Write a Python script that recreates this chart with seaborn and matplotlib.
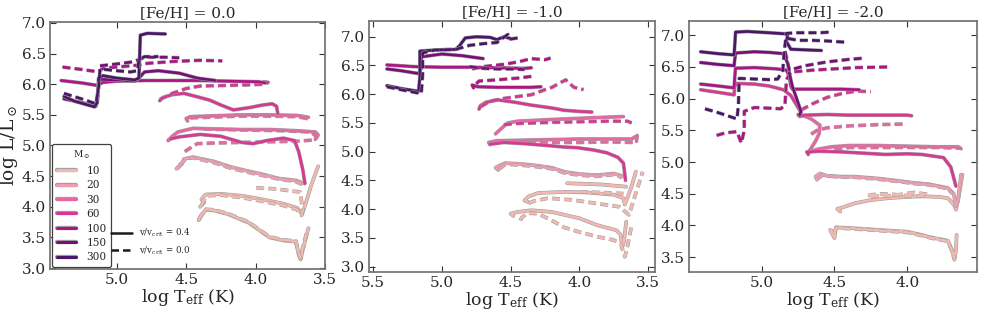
import matplotlib
matplotlib.use('Agg')
import matplotlib.pyplot as plt
import matplotlib.patheffects as pe
from matplotlib.lines import Line2D
import seaborn as sns
import pandas as pd

sns.set_theme(style='ticks')
plt.rcParams['font.family'] = ['DejaVu Serif']
plt.rcParams['mathtext.fontset'] = 'dejavuserif'

panel_titles = ['[Fe/H] = 0.0', '[Fe/H] = -1.0', '[Fe/H] = -2.0']
masses = [10, 20, 30, 60, 100, 150, 300]
mass_colors = ['#f2b9b1', '#ef9db0', '#ea66a0', '#d83893', '#ae1484', '#780e79', '#4a1668']
rot_labels = [r'v/v$_{\rm crit}$ = 0.4', r'v/v$_{\rm crit}$ = 0.0']

# ---- [Fe/H] = 0.0 : (log Teff, log L) ----
fe00_m10_rot = [(4.41,3.78),(4.39,3.86),(4.36,3.95),(4.30,3.94),(4.20,3.88),(4.05,3.74),(3.90,3.50),(3.80,3.45),(3.71,3.43),(3.69,3.22),(3.676,3.14),(3.66,3.30),(3.62,3.65)]
fe00_m10_norot = [(4.41,3.79),(4.39,3.87),(4.36,3.96),(4.30,3.95),(4.20,3.89),(4.05,3.75),(3.90,3.51),(3.80,3.46),(3.71,3.44),(3.69,3.24),(3.678,3.16),(3.665,3.30),(3.63,3.60)]
fe00_m10_rot_b = [(4.40,4.00),(4.37,4.07),(4.39,4.12),(4.36,4.20),(4.25,4.21),(4.10,4.18),(3.95,4.12),(3.80,4.05),(3.70,3.98),(3.665,3.88),(3.64,4.05),(3.60,4.35),(3.55,4.66)]
fe00_m10_norot_b = [(4.39,4.02),(4.37,4.12),(4.35,4.18),(4.25,4.19),(4.10,4.15),(3.95,4.09),(3.80,4.02),(3.70,3.95),(3.67,3.86),(3.66,3.95),(3.68,4.24),(3.85,4.29),(4.00,4.31)]
fe00_m20_rot = [(4.55,4.66),(4.57,4.62),(4.53,4.70),(4.515,4.78),(4.45,4.81),(4.30,4.74),(4.18,4.65),(4.05,4.58),(3.95,4.53),(3.83,4.46),(3.71,4.43),(3.65,4.38)]
fe00_m20_norot = [(4.55,4.68),(4.52,4.74),(4.50,4.79),(4.45,4.80),(4.30,4.72),(4.18,4.63),(4.05,4.56),(3.95,4.51),(3.83,4.45),(3.71,4.41),(3.66,4.36)]
fe00_m30_rot = [(4.61,5.11),(4.63,5.08),(4.60,5.15),(4.56,5.22),(4.45,5.28),(4.30,5.27),(4.10,5.26),(3.90,5.26),(3.70,5.24),(3.57,5.22),(3.55,5.17),(3.57,5.10)]
fe00_m30_norot = [(4.51,4.90),(4.47,4.96),(4.42,5.03),(4.30,5.04),(4.10,5.05),(3.90,5.06),(3.70,5.07),(3.58,5.09),(3.56,5.14),(3.60,5.22),(3.80,5.24),(4.00,5.25),(4.20,5.26),(4.40,5.27)]
fe00_m30_rot_b = [(4.49,5.40),(4.50,5.44),(4.47,5.47),(4.35,5.48),(4.10,5.50),(3.90,5.50),(3.70,5.49),(3.62,5.46)]
fe00_m30_norot_b = [(4.47,5.45),(4.35,5.46),(4.10,5.48),(3.90,5.48),(3.70,5.47),(3.63,5.44),(3.61,5.46)]
fe00_m60_rot = [(4.61,5.11),(4.55,5.14),(4.40,5.18),(4.25,5.15),(4.10,5.05),(4.02,5.03),(3.92,5.08),(3.80,5.12),(3.72,5.08),(3.69,4.90),(3.66,4.60),(3.645,4.38)]
fe00_m60_norot = [(4.69,5.75),(4.60,5.85),(4.50,5.93),(4.40,5.97),(4.20,5.98),(4.05,5.99),(3.93,6.00),(3.91,6.03),(3.95,6.04)]
fe00_m60_rot_b = [(4.69,5.73),(4.67,5.78),(4.60,5.83),(4.515,5.85),(4.43,5.80),(4.33,5.74),(4.25,5.66),(4.16,5.58),(4.04,5.62),(3.95,5.66),(3.88,5.68),(3.85,5.64),(3.84,5.52)]
fe00_m100_rot = [(5.40,6.06),(5.25,6.02),(5.14,5.98),(5.10,6.03),(5.00,6.05),(4.80,6.06),(4.60,6.06),(4.40,6.06),(4.20,6.05),(3.98,6.04),(3.93,6.02)]
fe00_m100_norot = [(5.39,6.28),(5.25,6.24),(5.13,6.20),(5.10,6.26),(5.00,6.28),(4.85,6.31),(4.78,6.34),(4.60,6.37),(4.40,6.39),(4.24,6.38)]
fe00_m150_rot = [(5.38,5.76),(5.25,5.70),(5.15,5.64),(5.135,5.80),(5.13,6.08),(5.00,6.07),(4.87,6.05),(4.84,6.10),(4.80,6.20),(4.70,6.22),(4.55,6.18),(4.42,6.10),(4.29,6.06)]
fe00_m150_norot = [(5.12,6.30),(5.00,6.33),(4.90,6.36),(4.84,6.40),(4.80,6.44),(4.65,6.44),(4.55,6.43)]
fe00_m300_rot = [(5.38,5.80),(5.30,5.72),(5.16,5.63),(5.14,5.70),(5.13,6.10),(5.10,6.14),(5.00,6.10),(4.87,6.07),(4.84,6.10),(4.83,6.80),(4.78,6.83),(4.65,6.82)]
fe00_m300_norot = [(5.38,5.85),(5.28,5.78),(5.20,5.72),(5.15,5.68),(5.13,5.95),(5.12,6.25),(5.00,6.22),(4.90,6.20),(4.85,6.22),(4.84,6.40),(4.80,6.45),(4.70,6.45)]

# ---- [Fe/H] = -1.0 ----
fe10_m10_rot = [(4.48,3.88),(4.50,3.92),(4.45,3.95),(4.35,3.98),(4.20,3.95),(4.11,3.90),(4.00,3.84),(3.87,3.72),(3.73,3.63),(3.70,3.55),(3.69,3.33),(3.675,3.45),(3.66,3.78)]
fe10_m10_norot = [(4.43,3.80),(4.42,3.85),(4.38,3.93),(4.30,3.92),(4.20,3.80),(4.11,3.68),(4.00,3.60),(3.87,3.52),(3.75,3.46),(3.70,3.40),(3.67,3.17),(3.655,3.30),(3.63,3.60),(3.62,3.72)]
fe10_m10_rot_b = [(4.37,4.12),(4.40,4.15),(4.37,4.22),(4.30,4.28),(4.11,4.30),(3.95,4.29),(3.75,4.25),(3.68,4.19),(3.67,4.08),(3.65,4.20),(3.62,4.40),(3.59,4.65)]
fe10_m10_norot_b = [(4.37,4.10),(4.33,4.14),(4.23,4.19),(4.05,4.16),(3.88,4.10),(3.71,4.04),(3.64,3.90),(3.60,4.20),(3.54,4.65)]
fe10_m10_rot_c = [(4.09,4.45),(3.85,4.43),(3.66,4.39)]
fe10_m10_norot_c = [(4.00,4.30),(3.85,4.29),(3.68,4.27)]
fe10_m20_rot = [(4.59,4.68),(4.61,4.72),(4.58,4.76),(4.54,4.80),(4.45,4.79),(4.35,4.77),(4.20,4.72),(4.11,4.65),(4.00,4.61),(3.87,4.59),(3.75,4.62),(3.68,4.57)]
fe10_m20_norot = [(4.58,4.70),(4.54,4.78),(4.45,4.77),(4.35,4.75),(4.20,4.70),(4.11,4.63),(4.00,4.59),(3.87,4.57),(3.75,4.60),(3.69,4.55)]
fe10_m30_rot = [(4.65,5.12),(4.66,5.16),(4.60,5.19),(4.40,5.20),(4.20,5.21),(4.00,5.22),(3.80,5.22),(3.62,5.22),(3.58,5.28),(3.585,5.18)]
fe10_m30_norot = [(4.64,5.14),(4.55,5.17),(4.40,5.17),(4.20,5.16),(4.00,5.16),(3.80,5.17),(3.60,5.16)]
fe10_m30_rot_b = [(4.61,5.31),(4.56,5.42),(4.52,5.50),(4.45,5.53),(4.20,5.56),(4.00,5.58),(3.80,5.60),(3.68,5.61)]
fe10_m60_rot = [(4.65,5.13),(4.55,5.16),(4.40,5.14),(4.20,5.10),(4.11,5.08),(4.02,5.07),(3.90,5.03),(3.80,4.98),(3.72,4.90),(3.68,4.80),(3.665,4.50)]
fe10_m60_norot = [(4.55,5.47),(4.45,5.49),(4.20,5.51),(4.00,5.52),(3.80,5.53),(3.65,5.53),(3.62,5.50)]
fe10_m60_rot_b = [(4.73,5.74),(4.72,5.80),(4.68,5.86),(4.59,5.90),(4.47,5.86),(4.35,5.81),(4.20,5.76),(4.11,5.72),(4.00,5.70),(3.91,5.69)]
fe10_m60_norot_b = [(4.72,5.78),(4.65,5.88),(4.54,5.93),(4.45,5.96),(4.35,5.99),(4.25,6.08),(4.20,6.12),(4.10,6.25),(4.04,6.12),(3.97,6.08)]
fe10_m100_rot = [(4.77,6.11),(4.78,6.16),(4.74,6.13),(4.60,6.12),(4.45,6.12),(4.35,6.12),(4.28,6.13)]
fe10_m100_norot = [(4.75,6.18),(4.73,6.23),(4.60,6.25),(4.45,6.28),(4.35,6.31)]
fe10_m100_rot_b = [(5.40,6.51),(5.20,6.48),(5.00,6.47),(4.80,6.47),(4.60,6.46),(4.40,6.45),(4.35,6.46)]
fe10_m100_norot_b = [(4.78,6.44),(4.70,6.48),(4.55,6.52),(4.45,6.56),(4.35,6.62),(4.25,6.60),(4.21,6.63)]
fe10_m150_rot = [(5.40,6.44),(5.30,6.41),(5.17,6.36),(5.15,6.45),(5.15,6.65),(5.00,6.70),(4.85,6.67),(4.70,6.62)]
fe10_m150_norot = [(4.80,6.48),(4.70,6.45),(4.60,6.44),(4.50,6.44),(4.40,6.43)]
fe10_m300_rot = [(5.40,6.15),(5.30,6.10),(5.17,6.05),(5.16,6.30),(5.16,6.75),(5.05,6.77),(4.90,6.78),(4.87,6.85),(4.83,6.98),(4.75,7.00),(4.65,6.99),(4.60,6.95),(4.55,7.00),(4.50,6.97)]
fe10_m300_norot = [(5.40,6.13),(5.30,6.08),(5.15,6.01),(5.14,6.35),(5.14,6.72),(5.05,6.77),(4.90,6.78),(4.80,6.85),(4.70,6.88),(4.60,6.90),(4.55,6.99),(4.52,7.04),(4.50,6.96),(4.45,6.98)]

# ---- [Fe/H] = -2.0 ----
fe20_m10_rot = [(4.51,3.90),(4.53,3.93),(4.50,3.80),(4.49,3.97),(4.40,3.96),(4.20,3.93),(4.00,3.90),(3.90,3.85),(3.835,3.81),(3.72,3.76),(3.69,3.60),(3.675,3.46),(3.665,3.60),(3.66,3.85)]
fe20_m10_norot = [(4.50,3.88),(4.49,3.96),(4.40,3.95),(4.20,3.92),(4.00,3.89),(3.90,3.84),(3.835,3.80),(3.72,3.75),(3.69,3.58),(3.677,3.48)]
fe20_m10_rot_b = [(4.46,4.22),(4.48,4.26),(4.45,4.28),(4.36,4.35),(4.25,4.40),(4.13,4.43),(4.00,4.45),(3.90,4.46),(3.78,4.45),(3.72,4.43),(3.68,4.33),(3.665,4.25),(3.65,4.40),(3.62,4.80)]
fe20_m10_norot_b = [(4.27,4.47),(4.20,4.50),(4.10,4.49),(4.00,4.47),(3.90,4.46),(3.86,4.49),(3.95,4.52),(4.10,4.47),(4.22,4.46),(4.27,4.45)]
fe20_m20_rot = [(4.62,4.72),(4.63,4.77),(4.60,4.82),(4.55,4.78),(4.45,4.77),(4.36,4.77),(4.20,4.74),(4.05,4.70),(3.95,4.67),(3.85,4.65),(3.72,4.59),(3.68,4.50),(3.665,4.30),(3.65,4.40),(3.63,4.80)]
fe20_m20_norot = [(4.61,4.74),(4.58,4.80),(4.50,4.77),(4.36,4.76),(4.20,4.73),(4.05,4.69),(3.95,4.66),(3.85,4.64),(3.72,4.58),(3.69,4.50)]
fe20_m30_rot = [(4.73,5.75),(4.66,5.68),(4.60,5.58),(4.605,5.45),(4.63,5.33),(4.66,5.22),(4.68,5.15),(4.62,5.20),(4.52,5.24),(4.40,5.26),(4.20,5.26),(4.00,5.25),(3.80,5.24),(3.65,5.24),(3.63,5.21)]
fe20_m30_norot = [(4.50,5.19),(4.40,5.23),(4.20,5.23),(4.00,5.23),(3.80,5.23),(3.63,5.22)]
fe20_m30_norot_b = [(4.66,5.44),(4.62,5.50),(4.55,5.54),(4.40,5.57),(4.20,5.59),(4.02,5.60)]
fe20_m60_rot = [(4.68,5.12),(4.69,5.16),(4.60,5.17),(4.45,5.16),(4.30,5.14),(4.15,5.12),(4.00,5.13),(3.90,5.12),(3.75,5.07),(3.70,4.92),(3.68,4.75),(3.665,4.62)]
fe20_m60_rot_b = [(4.75,5.75),(4.74,5.72),(4.70,5.74),(4.55,5.75),(4.40,5.74),(4.20,5.74),(4.00,5.74),(3.97,5.73)]
fe20_m60_rot_c = [(5.42,6.14),(5.30,6.10),(5.19,6.06),(5.185,6.20),(5.17,6.24),(5.05,6.23),(4.95,6.20),(4.85,6.14),(4.80,6.05),(4.76,5.90),(4.73,5.78)]
fe20_m60_norot = [(4.73,5.82),(4.65,5.92),(4.55,6.02),(4.45,6.08),(4.35,6.12),(4.25,6.11)]
fe20_m100_rot = [(5.42,6.23),(5.30,6.20),(5.19,6.17),(5.185,6.35),(5.18,6.48),(5.05,6.49),(4.90,6.47),(4.83,6.45),(4.81,6.35),(4.80,6.20),(4.79,6.15),(4.60,6.15),(4.45,6.15),(4.33,6.14)]
fe20_m100_norot = [(5.31,5.42),(5.25,5.46),(5.17,5.48),(5.15,5.36),(5.14,5.30),(5.12,5.50),(5.12,5.80),(5.05,5.86),(4.95,5.85),(4.87,5.84),(4.84,5.90),(4.83,6.30),(4.80,6.42),(4.65,6.45),(4.50,6.47),(4.35,6.49),(4.13,6.50)]
fe20_m150_rot = [(5.42,6.57),(5.30,6.54),(5.19,6.52),(5.185,6.62),(5.18,6.72),(5.05,6.74),(4.95,6.73),(4.85,6.71),(4.82,6.55),(4.81,6.40),(4.79,6.20),(4.76,6.00),(4.73,5.80),(4.74,5.74)]
fe20_m150_norot = [(4.84,6.75),(4.82,6.55),(4.81,6.45),(4.70,6.52),(4.55,6.58),(4.40,6.62),(4.29,6.64)]
fe20_m300_rot = [(5.42,6.74),(5.30,6.71),(5.19,6.69),(5.185,6.85),(5.18,7.05),(5.10,7.06),(4.95,7.04),(4.82,7.02),(4.83,6.90),(4.80,6.78),(4.70,6.77),(4.59,6.76)]
fe20_m300_norot = [(5.39,5.84),(5.30,5.78),(5.17,5.68),(5.16,5.90),(5.155,6.32),(5.05,6.31),(4.95,6.30),(4.89,6.31),(4.855,6.45),(4.845,6.75),(4.83,7.03),(4.75,7.04),(4.60,7.04),(4.53,7.05)]
fe20_m300_norot_b = [(4.82,6.95),(4.75,6.92),(4.65,6.92),(4.55,6.91),(4.42,6.89)]

# panel, mass, rotation, track
tracks = [
    (0, 10, '0.4', fe00_m10_rot), (0, 10, '0.0', fe00_m10_norot),
    (0, 10, '0.4', fe00_m10_rot_b), (0, 10, '0.0', fe00_m10_norot_b),
    (0, 20, '0.4', fe00_m20_rot), (0, 20, '0.0', fe00_m20_norot),
    (0, 30, '0.4', fe00_m30_rot), (0, 30, '0.0', fe00_m30_norot),
    (0, 30, '0.4', fe00_m30_rot_b), (0, 30, '0.0', fe00_m30_norot_b),
    (0, 60, '0.4', fe00_m60_rot), (0, 60, '0.0', fe00_m60_norot), (0, 60, '0.4', fe00_m60_rot_b),
    (0, 100, '0.4', fe00_m100_rot), (0, 100, '0.0', fe00_m100_norot),
    (0, 150, '0.4', fe00_m150_rot), (0, 150, '0.0', fe00_m150_norot),
    (0, 300, '0.4', fe00_m300_rot), (0, 300, '0.0', fe00_m300_norot),

    (1, 10, '0.4', fe10_m10_rot), (1, 10, '0.0', fe10_m10_norot),
    (1, 10, '0.4', fe10_m10_rot_b), (1, 10, '0.0', fe10_m10_norot_b),
    (1, 10, '0.4', fe10_m10_rot_c), (1, 10, '0.0', fe10_m10_norot_c),
    (1, 20, '0.4', fe10_m20_rot), (1, 20, '0.0', fe10_m20_norot),
    (1, 30, '0.4', fe10_m30_rot), (1, 30, '0.0', fe10_m30_norot), (1, 30, '0.4', fe10_m30_rot_b),
    (1, 60, '0.4', fe10_m60_rot), (1, 60, '0.0', fe10_m60_norot),
    (1, 60, '0.4', fe10_m60_rot_b), (1, 60, '0.0', fe10_m60_norot_b),
    (1, 100, '0.4', fe10_m100_rot), (1, 100, '0.0', fe10_m100_norot),
    (1, 100, '0.4', fe10_m100_rot_b), (1, 100, '0.0', fe10_m100_norot_b),
    (1, 150, '0.4', fe10_m150_rot), (1, 150, '0.0', fe10_m150_norot),
    (1, 300, '0.4', fe10_m300_rot), (1, 300, '0.0', fe10_m300_norot),

    (2, 10, '0.4', fe20_m10_rot), (2, 10, '0.0', fe20_m10_norot),
    (2, 10, '0.4', fe20_m10_rot_b), (2, 10, '0.0', fe20_m10_norot_b),
    (2, 20, '0.4', fe20_m20_rot), (2, 20, '0.0', fe20_m20_norot),
    (2, 30, '0.4', fe20_m30_rot), (2, 30, '0.0', fe20_m30_norot), (2, 30, '0.0', fe20_m30_norot_b),
    (2, 60, '0.4', fe20_m60_rot), (2, 60, '0.4', fe20_m60_rot_b), (2, 60, '0.4', fe20_m60_rot_c),
    (2, 60, '0.0', fe20_m60_norot),
    (2, 100, '0.4', fe20_m100_rot), (2, 100, '0.0', fe20_m100_norot),
    (2, 150, '0.4', fe20_m150_rot), (2, 150, '0.0', fe20_m150_norot),
    (2, 300, '0.4', fe20_m300_rot), (2, 300, '0.0', fe20_m300_norot), (2, 300, '0.0', fe20_m300_norot_b),
]

rows = []
for tid, (p, m, r, pts) in enumerate(tracks):
    for t, l in pts:
        rows.append({'panel': p, 'mass': m, 'rot': r, 'track': tid, 'logT': t, 'logL': l})
df = pd.DataFrame(rows)

palette = dict(zip(masses, mass_colors))
outline = [pe.Stroke(linewidth=2.7, foreground='0.62'), pe.Normal()]

fig = plt.figure(figsize=(9.83, 3.14), dpi=100)
rects = [[0.0509, 0.1424, 0.2798, 0.7885],
         [0.3754, 0.1347, 0.2910, 0.7994],
         [0.7009, 0.1347, 0.2930, 0.7994]]
xlims = [(5.48, 3.50), (5.53, 3.45), (5.50, 3.52)]
ylims = [(2.98, 7.02), (2.91, 7.28), (3.27, 7.23)]
xticks = [[5.0, 4.5, 4.0, 3.5], [5.5, 5.0, 4.5, 4.0, 3.5], [5.0, 4.5, 4.0]]
yticks = [[3.0, 3.5, 4.0, 4.5, 5.0, 5.5, 6.0, 6.5, 7.0],
          [3.0, 3.5, 4.0, 4.5, 5.0, 5.5, 6.0, 6.5, 7.0],
          [3.5, 4.0, 4.5, 5.0, 5.5, 6.0, 6.5, 7.0]]

for i in range(3):
    ax = fig.add_axes(rects[i])
    sub = df[df['panel'] == i].sort_values(['mass', 'track'], kind='stable')
    sns.lineplot(data=sub, x='logT', y='logL', hue='mass', style='rot', units='track',
                 estimator=None, sort=False, palette=palette,
                 dashes={'0.4': '', '0.0': (3, 1.6)}, style_order=['0.4', '0.0'],
                 legend=False, linewidth=1.9, path_effects=outline, ax=ax)
    ax.set_xlim(*xlims[i])
    ax.set_ylim(*ylims[i])
    ax.set_xticks(xticks[i])
    ax.set_yticks(yticks[i])
    ax.tick_params(direction='in', top=True, right=True, length=4, width=0.8,
                   labelsize=11, color='0.2', pad=3)
    for s in ax.spines.values():
        s.set_color('0.45')
    ax.set_title(panel_titles[i], fontsize=11, pad=3)
    ax.set_xlabel(r'log T$_{\rm eff}$ (K)', fontsize=12.5, labelpad=0)
    ax.set_ylabel('')

    if i == 0:
        ax.set_ylabel(r'log L/L$_\odot$', fontsize=13.5, labelpad=1)
        mh = [Line2D([], [], color=c, lw=2.2,
                     path_effects=[pe.Stroke(linewidth=3.1, foreground='0.62'), pe.Normal()])
              for c in mass_colors]
        leg1 = ax.legend(mh, [str(m) for m in masses], title=r'M$_\odot$', loc='lower left',
                         fontsize=7.6, title_fontsize=6.5, handlelength=1.8, labelspacing=0.42,
                         borderaxespad=0.2, frameon=True, edgecolor='0.25', fancybox=True,
                         handletextpad=1.0, borderpad=0.45, framealpha=1)
        leg1.get_frame().set_linewidth(0.9)
        ax.add_artist(leg1)
        rh = [Line2D([], [], color='k', lw=1.8, ls='-'),
              Line2D([], [], color='k', lw=1.8, ls=(0, (3, 1.6)))]
        ax.legend(rh, rot_labels, loc='lower left', bbox_to_anchor=(0.195, 0.02),
                  fontsize=6.2, frameon=False, handlelength=2.4, labelspacing=0.55,
                  handletextpad=0.8)

plt.savefig('out.png', dpi=100)
plt.close()
